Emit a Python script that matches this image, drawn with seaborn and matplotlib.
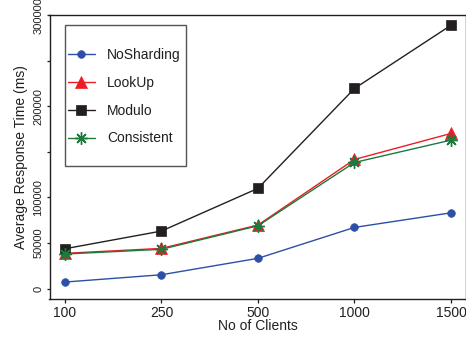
import matplotlib
matplotlib.use("Agg")
import matplotlib.pyplot as plt
import seaborn as sns
import pandas as pd
from matplotlib.patches import Rectangle

clients = ["100", "250", "500", "1000", "1500"]
series_names = ["NoSharding", "LookUp", "Modulo", "Consistent"]
nosharding = [7300, 15300, 33300, 67200, 83200]
lookup = [38800, 44200, 69800, 141700, 170200]
modulo = [43800, 63200, 110000, 219500, 288800]
consistent = [38000, 43200, 69000, 138400, 162900]
y_ticks = [0, 50000, 100000, 150000, 200000, 250000, 300000]
y_tick_labels = ["0", "50000", "100000", "", "200000", "", "300000"]

values = {"NoSharding": nosharding, "LookUp": lookup, "Modulo": modulo, "Consistent": consistent}
rows = []
for name in series_names:
    for i, v in enumerate(values[name]):
        rows.append({"pos": i, "value": v, "series": name})
df = pd.DataFrame(rows)

sns.set_style("ticks")
plt.rcParams["font.family"] = ["Liberation Sans", "DejaVu Sans"]
txt = "#231F20"

palette = {"NoSharding": "#2D4FA5", "LookUp": "#EE1C25", "Modulo": "#231F20", "Consistent": "#1D7A3C"}
markers = {"NoSharding": "o", "LookUp": "^", "Modulo": "s", "Consistent": (8, 2, 0)}
msizes = {"NoSharding": 5.5, "LookUp": 8, "Modulo": 7, "Consistent": 9}

fig = plt.figure(figsize=(4.66, 3.41), dpi=100)
W, H = 466, 341
L, R, T, B = 49.5, 466.4, 14.7, 298.7
ax = fig.add_axes([L / W, 1 - B / H, (R - L) / W, (B - T) / H])

for name in series_names:
    sub = df[df["series"] == name]
    sns.lineplot(data=sub, x="pos", y="value", ax=ax, color=palette[name],
                 marker=markers[name], markersize=msizes[name],
                 markeredgecolor=palette[name], markeredgewidth=1.0 if name == "Consistent" else 0.5,
                 linewidth=1.0, label=name, legend=False)

ax.set_xlim(-0.16, 4.16)
ax.set_ylim(-10950, 300400)
ax.set_xticks(range(len(clients)))
ax.set_xticklabels(clients, fontsize=10, color=txt)
ax.set_yticks(y_ticks)
ax.set_yticklabels(y_tick_labels, fontsize=8, color=txt, rotation=90, va="center")
ax.tick_params(axis="x", length=3, width=0.9, pad=2.2, color=txt)
ax.tick_params(axis="y", length=2.5, width=0.9, pad=2, color=txt)
ax.set_xlabel("No of Clients", fontsize=10, color=txt, labelpad=-1)
ax.set_ylabel("Average Response Time (ms)", fontsize=10, color=txt, labelpad=4)
for s in ax.spines.values():
    s.set_linewidth(1.0)
    s.set_color(txt)
    s.set_visible(True)

# legend frame
lx0, lx1, ly0, ly1 = 65, 186, 25, 166
ax.add_patch(Rectangle(((lx0 - L) / (R - L), (B - ly1) / (B - T)),
                       (lx1 - lx0) / (R - L), (ly1 - ly0) / (B - T),
                       transform=ax.transAxes, fill=True, facecolor="white",
                       edgecolor="#555555", linewidth=1.0, zorder=4))
leg = ax.legend(loc="upper left", bbox_to_anchor=((65 - L) / (R - L), (B - 45) / (B - T)),
                borderaxespad=0, frameon=False, fontsize=10, labelspacing=1.0,
                handlelength=1.95, handletextpad=0.9, borderpad=0.2)
leg.set_zorder(5)
for t in leg.get_texts():
    t.set_color(txt)

fig.savefig("out.png", dpi=100)
